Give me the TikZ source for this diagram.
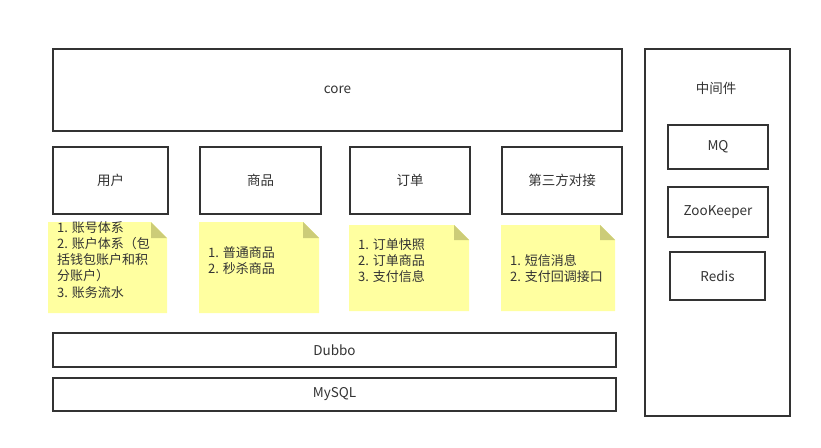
\documentclass[tikz,border=0pt]{standalone}
\usepackage{fontspec}
\setmainfont{Noto Sans CJK SC}
\begin{document}
\begin{tikzpicture}[x=1pt,y=-1pt,
  box/.style={draw=bordc, line width=2pt, fill=white, text=txtc, font=\fontsize{13.5}{16}\selectfont, inner sep=0pt, anchor=north west},
  notetext/.style={text=txtc, font=\fontsize{13}{16.3}\selectfont, align=left, anchor=north west, inner sep=0pt},
  notefill/.style={fill=notec},
  foldfill/.style={fill=foldc}]
\definecolor{bordc}{RGB}{51,51,51}
\definecolor{txtc}{RGB}{51,51,51}
\definecolor{notec}{RGB}{255,255,160}
\definecolor{foldc}{RGB}{204,204,120}
\useasboundingbox (0,0) rectangle (821,447);
% main boxes
\node[box, minimum width=569pt, minimum height=82pt] (core) at (52,48) {core};
\node[box, minimum width=115pt, minimum height=67pt] (user) at (52,146) {用户};
\node[box, minimum width=121pt, minimum height=67pt] (goods) at (199,146) {商品};
\node[box, minimum width=120pt, minimum height=67pt] (order) at (349,146) {订单};
\node[box, minimum width=120pt, minimum height=67pt] (third) at (501,146) {第三方对接};
\node[box, minimum width=563pt, minimum height=34pt] (dubbo) at (52,332) {Dubbo};
\node[box, minimum width=563pt, minimum height=33pt] (mysql) at (52,377) {MySQL};
% middleware
\node[box, minimum width=145pt, minimum height=367pt] (mw) at (644,48) {};
\node[text=txtc, font=\fontsize{13.5}{16}\selectfont] (mwlabel) at (716,88) {中间件};
\node[box, minimum width=100pt, minimum height=44pt] (mq) at (667,124) {MQ};
\node[box, minimum width=100pt, minimum height=50pt] (zk) at (667,186) {ZooKeeper};
\node[box, minimum width=95pt, minimum height=48pt] (redis) at (669,251) {Redis};
% notes
\fill[notefill] (48,222) -- (151,222) -- (167,238) -- (167,313) -- (48,313) -- cycle;
\fill[foldfill] (151,222) -- (167,238) -- (151,238) -- cycle;
\node[notetext] (n1) at (57,221) {1. 账号体系\\2. 账户体系（包\\括钱包账户和积\\分账户）\\3. 账务流水};
\fill[notefill] (199,222) -- (303,222) -- (319,238) -- (319,313) -- (199,313) -- cycle;
\fill[foldfill] (303,222) -- (319,238) -- (303,238) -- cycle;
\node[notetext] (n2) at (208,246) {1. 普通商品\\2. 秒杀商品};
\fill[notefill] (349,225) -- (454,225) -- (469,240) -- (469,311) -- (349,311) -- cycle;
\fill[foldfill] (454,225) -- (469,240) -- (454,240) -- cycle;
\node[notetext] (n3) at (358,238) {1. 订单快照\\2. 订单商品\\3. 支付信息};
\fill[notefill] (501,225) -- (600,225) -- (615,240) -- (615,311) -- (501,311) -- cycle;
\fill[foldfill] (600,225) -- (615,240) -- (600,240) -- cycle;
\node[notetext] (n4) at (510,254) {1. 短信消息\\2. 支付回调接口};
\end{tikzpicture}
\end{document}
